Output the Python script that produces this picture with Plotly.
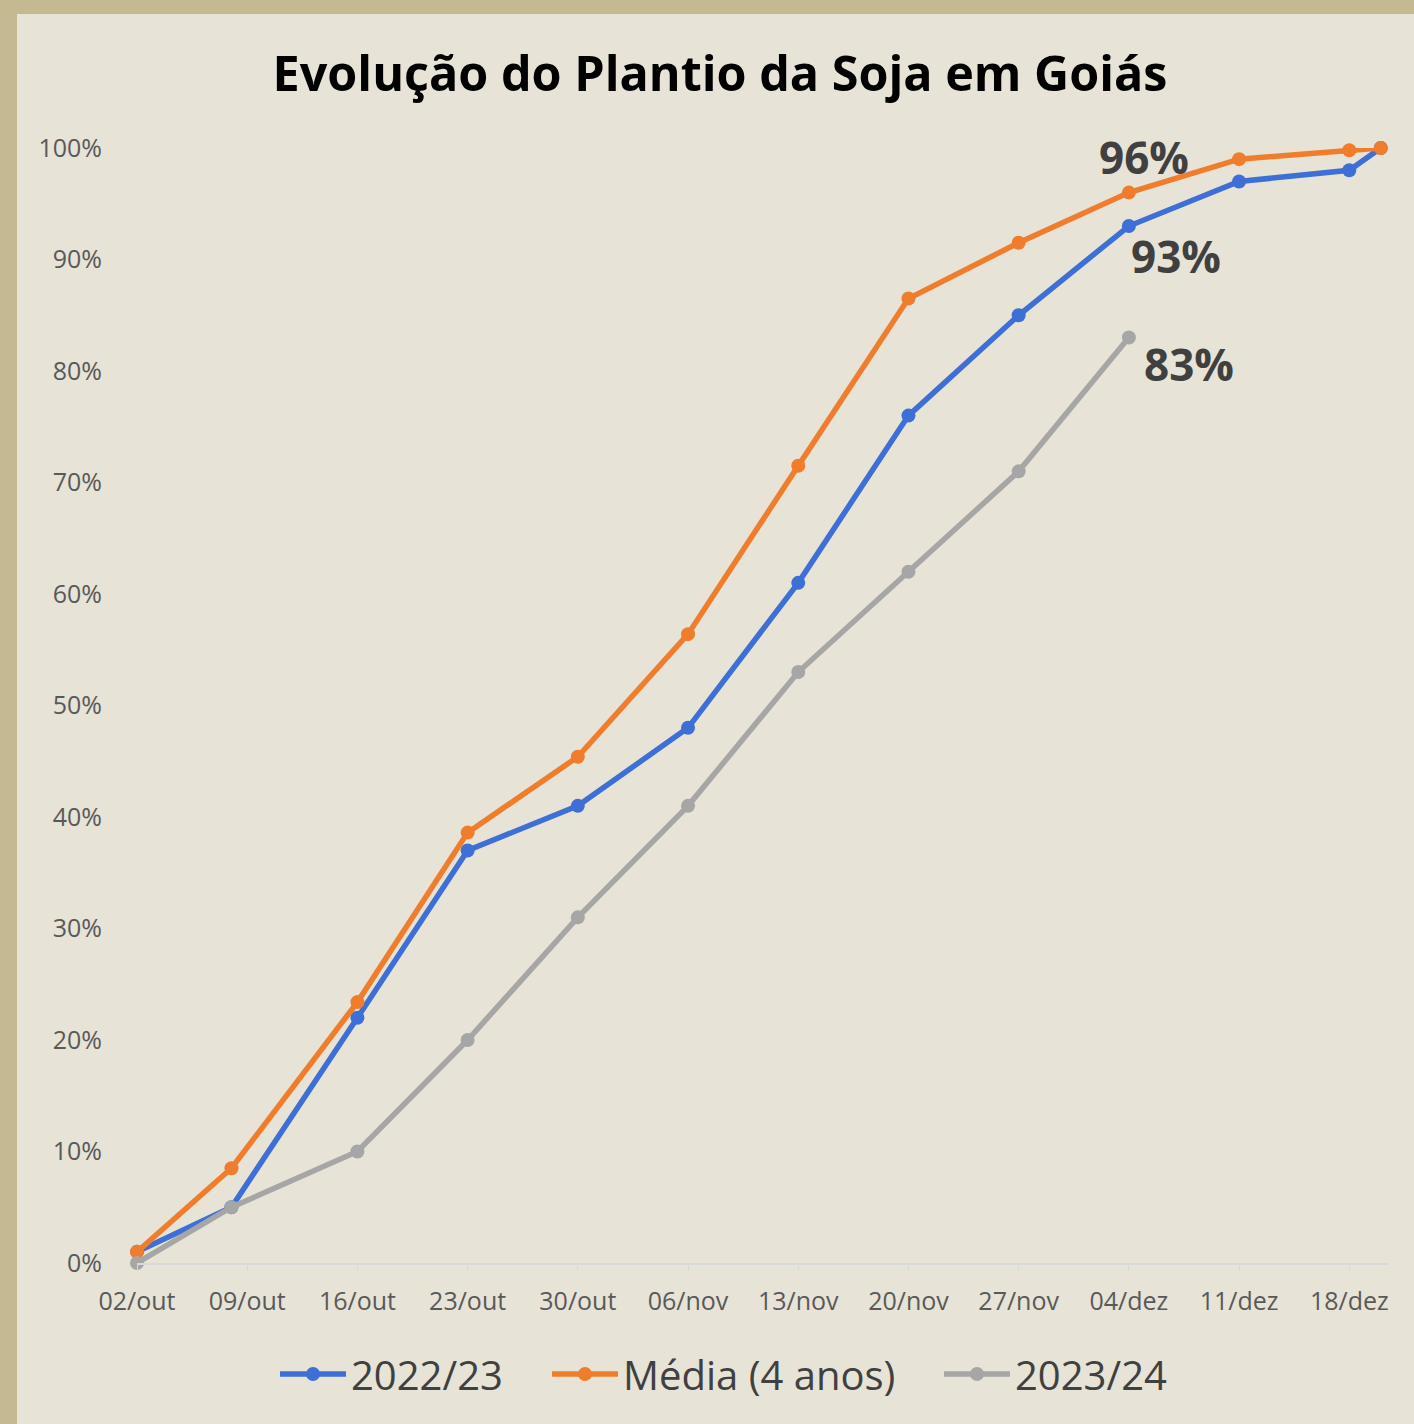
import pandas as pd
import plotly.graph_objects as go

# datas das leituras (eixo de datas, campanha 2023/24)
datas = ["2023-10-02", "2023-10-08", "2023-10-16", "2023-10-23", "2023-10-30",
         "2023-11-06", "2023-11-13", "2023-11-20", "2023-11-27", "2023-12-04",
         "2023-12-11", "2023-12-18", "2023-12-20"]

safra_2223 = [0.01, 0.05, 0.22, 0.37, 0.41, 0.48, 0.61, 0.76, 0.85, 0.93, 0.97, 0.98, 1.00]
media_4anos = [0.01, 0.085, 0.234, 0.386, 0.454, 0.564, 0.715, 0.865, 0.915, 0.96, 0.99, 0.998, 1.00]
safra_2324 = [0.00, 0.05, 0.10, 0.20, 0.31, 0.41, 0.53, 0.62, 0.71, 0.83]

tick_datas = ["2023-10-02", "2023-10-09", "2023-10-16", "2023-10-23", "2023-10-30",
              "2023-11-06", "2023-11-13", "2023-11-20", "2023-11-27", "2023-12-04",
              "2023-12-11", "2023-12-18"]
tick_textos = ["02/out", "09/out", "16/out", "23/out", "30/out", "06/nov", "13/nov",
               "20/nov", "27/nov", "04/dez", "11/dez", "18/dez"]

W, H = 1414, 1424
ML, MR, MT, MB = 137, 26, 148, 161
bege = "#E7E3D7"
borda = "#C5B991"
pw = W - ML - MR
ph = H - MT - MB

series = [
    ("2022/23", safra_2223, "#3D6FD6", "legend", 283),
    ("Média (4 anos)", media_4anos, "#F07D2C", "legend2", 555),
    ("2023/24", safra_2324, "#A6A6A6", "legend3", 947),
]

fig = go.Figure()
for nome, vals, cor, leg, _ in series:
    fig.add_trace(go.Scatter(
        x=pd.to_datetime(datas[:len(vals)]), y=vals, name=nome,
        mode="lines+markers", cliponaxis=False, legend=leg,
        line=dict(color=cor, width=5.5),
        marker=dict(color=cor, size=14),
    ))

# rótulos de dados em 04/dez
idx = datas.index("2023-12-04")
rotulos = [
    (media_4anos[idx], 15, 36),
    (safra_2223[idx], 47, -30),
    (safra_2324[idx], 60, -26),
]
for v, dx, dy in rotulos:
    fig.add_annotation(
        x=pd.Timestamp(datas[idx]), y=v, text=f"{v:.0%}", showarrow=False,
        xshift=dx, yshift=dy,
        font=dict(family="Open Sans", size=44, color="#404040", weight="bold"),
    )

# fundo bege com borda caqui à esquerda e no topo
fig.add_shape(
    type="rect", xref="paper", yref="paper", layer="below",
    x0=(17 - ML) / pw, x1=(W - ML) / pw,
    y0=-MB / ph, y1=(H - MB - 14) / ph,
    fillcolor=bege, line_width=0,
)

legendas = {}
for _, _, _, leg, px0 in series:
    legendas[leg] = dict(
        orientation="h", x=(px0 - 8 - ML) / pw, xanchor="left",
        y=-111 / ph, yanchor="middle",
        font=dict(family="Open Sans", size=40, color="#404040"),
        itemwidth=66, bgcolor="rgba(0,0,0,0)",
    )

fig.update_layout(
    width=W, height=H,
    margin=dict(l=ML, r=MR, t=MT, b=MB),
    paper_bgcolor=borda,
    plot_bgcolor="rgba(0,0,0,0)",
    title=dict(
        text="<b>Evolução do Plantio da Soja em Goiás</b>",
        x=720 / W, xref="container", xanchor="center",
        y=1 - 74 / H, yref="container", yanchor="middle",
        font=dict(family="Open Sans", size=48.5, color="#000000"),
    ),
    font=dict(family="Open Sans"),
    showlegend=True,
    **legendas,
)

fig.update_xaxes(
    type="date",
    range=[pd.Timestamp("2023-10-02"), pd.Timestamp("2023-12-20 11:00")],
    tickvals=pd.to_datetime(tick_datas), ticktext=tick_textos,
    showgrid=False, zeroline=False,
    showline=True, linecolor="#D9D9D9", linewidth=2,
    ticks="outside", ticklen=6, tickcolor="#D9D9D9",
    ticklabelstandoff=9,
    tickfont=dict(size=25, color="#595959"),
)
fig.update_yaxes(
    range=[0, 1], dtick=0.1, tickformat=".0%",
    showgrid=False, zeroline=False, showline=False,
    ticks="", ticklabelstandoff=34,
    tickfont=dict(size=25, color="#595959"),
)

fig.write_html("out.html", config={"displayModeBar": False},
               post_script="document.body.style.margin='0';")
